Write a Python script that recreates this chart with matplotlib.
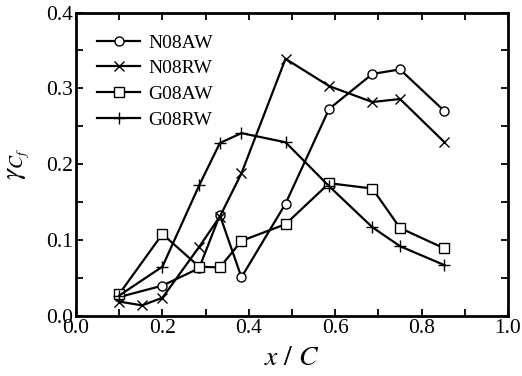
import matplotlib
matplotlib.use("Agg")
import matplotlib.pyplot as plt
from matplotlib.ticker import MultipleLocator

plt.rcParams['font.family'] = ['Liberation Serif', 'DejaVu Serif']
plt.rcParams['mathtext.fontset'] = 'stix'

x = [0.1, 0.2, 0.285, 0.333, 0.383, 0.485, 0.586, 0.686, 0.75, 0.853]
x_rw = [0.1, 0.153, 0.2, 0.285, 0.333, 0.383, 0.485, 0.586, 0.686, 0.75, 0.853]
n08aw = [0.025, 0.040, 0.063, 0.133, 0.051, 0.148, 0.273, 0.319, 0.325, 0.270]
n08rw = [0.019, 0.014, 0.024, 0.091, 0.131, 0.188, 0.339, 0.303, 0.282, 0.286, 0.229]
g08aw = [0.029, 0.108, 0.065, 0.064, 0.099, 0.121, 0.175, 0.168, 0.116, 0.089]
g08rw = [0.027, 0.065, 0.172, 0.228, 0.241, 0.229, 0.171, 0.117, 0.092, 0.067]
labels = ['N08AW', 'N08RW', 'G08AW', 'G08RW']

fig = plt.figure(figsize=(5.22, 3.76), dpi=100)
ax = fig.add_axes([76/522, 1-316/376, 432/522, 303.5/376])

kw = dict(color='black', lw=1.6, mfc='white', mec='black', mew=1.0)
ax.plot(x, n08aw, marker='o', ms=6.5, label=labels[0], **kw)
ax.plot(x_rw, n08rw, marker='x', ms=7.5, label=labels[1], **kw)
ax.plot(x, g08aw, marker='s', ms=6.5, label=labels[2], **kw)
ax.plot(x, g08rw, marker='+', ms=9, label=labels[3], **kw)

ax.set_xlim(0, 1.0)
ax.set_ylim(0, 0.4)
ax.xaxis.set_major_locator(MultipleLocator(0.2))
ax.xaxis.set_minor_locator(MultipleLocator(0.1))
ax.yaxis.set_major_locator(MultipleLocator(0.1))
ax.yaxis.set_minor_locator(MultipleLocator(0.05))
ax.xaxis.set_major_formatter(plt.FormatStrFormatter('%.1f'))
ax.yaxis.set_major_formatter(plt.FormatStrFormatter('%.1f'))
ax.tick_params(which='both', direction='in', top=True, right=True, width=1.3, labelsize=15.5)
ax.tick_params(which='major', length=5, pad=2)
ax.tick_params(which='minor', length=5)
for s in ax.spines.values():
    s.set_linewidth(2)

ax.set_xlabel(r'$x\ /\ C$', fontsize=20, labelpad=6)
ax.set_ylabel(r'$\gamma_{C_f}$', fontsize=20, labelpad=10)

leg = ax.legend(loc='upper left', frameon=False, fontsize=14, handlelength=2.2,
                handletextpad=0.4, labelspacing=0.42, borderaxespad=0.7,
                markerscale=1.0)

fig.savefig('out.png', dpi=100)
